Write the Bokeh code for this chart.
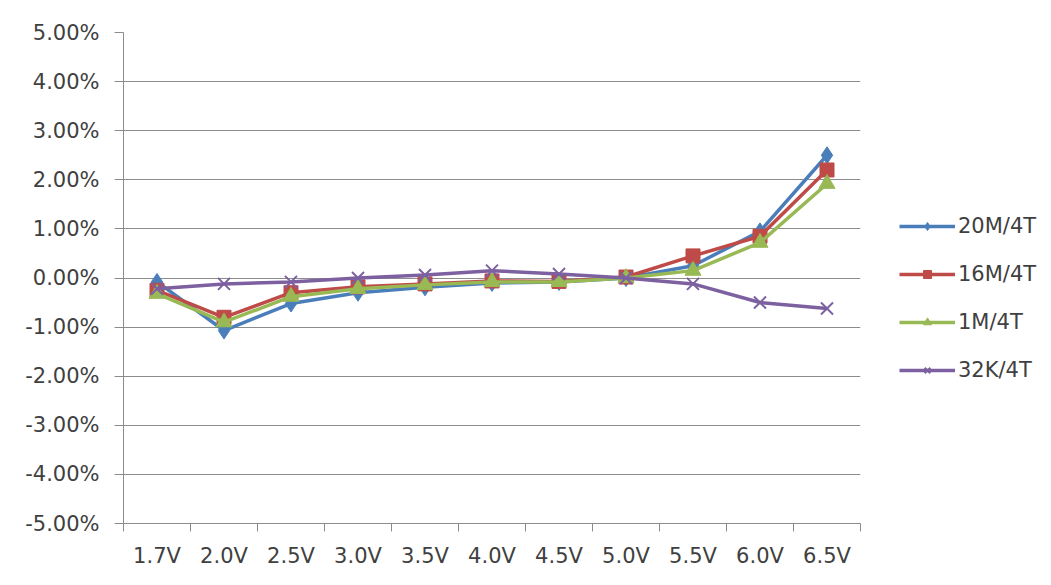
from bokeh.plotting import figure
from bokeh.models import FixedTicker, NumeralTickFormatter, Legend, LegendItem, Range1d
from bokeh.embed import file_html
from bokeh.resources import INLINE

categories = ["1.7V", "2.0V", "2.5V", "3.0V", "3.5V", "4.0V", "4.5V", "5.0V", "5.5V", "6.0V", "6.5V"]
s20m = [-0.08, -1.07, -0.52, -0.30, -0.19, -0.10, -0.08, 0.00, 0.25, 0.95, 2.50]
s16m = [-0.25, -0.80, -0.30, -0.18, -0.12, -0.06, -0.07, 0.02, 0.45, 0.85, 2.20]
s1m = [-0.32, -0.90, -0.38, -0.22, -0.14, -0.08, -0.08, 0.00, 0.15, 0.72, 1.92]
s32k = [-0.22, -0.12, -0.08, 0.00, 0.06, 0.15, 0.08, 0.00, -0.12, -0.50, -0.62]
names = ["20M/4T", "16M/4T", "1M/4T", "32K/4T"]
colors = ["#4A7EBB", "#BE4B48", "#98B954", "#7D60A0"]
markers = ["diamond", "square", "triangle", "x"]
ticks_pct = [-5, -4, -3, -2, -1, 0, 1, 2, 3, 4, 5]

FONT = "DejaVu Sans"
TXT = "#404040"
FS = "21px"

xs = [i + 0.5 for i in range(len(categories))]

p = figure(frame_width=737, frame_height=491, output_backend="svg", toolbar_location=None,
           x_range=Range1d(0, len(categories)), y_range=Range1d(-0.05, 0.05),
           min_border_left=123, min_border_top=32, min_border_right=180, min_border_bottom=54)
p.outline_line_color = None
p.xgrid.grid_line_color = None
p.ygrid.grid_line_color = "#8C8C8C"
p.ygrid.grid_line_width = 1

p.yaxis.ticker = FixedTicker(ticks=[t / 100 for t in ticks_pct])
p.yaxis.formatter = NumeralTickFormatter(format="0.00%")
p.yaxis.minor_tick_line_color = None
p.yaxis.major_tick_out = 9
p.yaxis.major_tick_in = 0
p.yaxis.major_label_standoff = 15
p.yaxis.axis_line_color = "#8C8C8C"
p.yaxis.major_tick_line_color = "#8C8C8C"

p.xaxis.ticker = FixedTicker(ticks=xs, minor_ticks=list(range(len(categories) + 1)))
p.xaxis.major_label_overrides = {x: c for x, c in zip(xs, categories)}
p.xaxis.major_tick_line_color = None
p.xaxis.major_tick_out = 0
p.xaxis.minor_tick_out = 8
p.xaxis.minor_tick_in = 0
p.xaxis.minor_tick_line_color = "#8C8C8C"
p.xaxis.axis_line_color = "#8C8C8C"
p.xaxis.major_label_standoff = 12

for ax in (p.xaxis, p.yaxis):
    ax.major_label_text_font = FONT
    ax.major_label_text_font_size = FS
    ax.major_label_text_color = TXT

items = []
for name, vals, col, mk in zip(names, [s20m, s16m, s1m, s32k], colors, markers):
    ys = [v / 100 for v in vals]
    r1 = p.line(xs, ys, line_color=col, line_width=3.5)
    if mk == "x":
        r2 = p.scatter(xs, ys, marker="x", size=17, line_color=col, line_width=2)
    else:
        sz = {"diamond": 17, "square": 14, "triangle": 16}[mk]
        r2 = p.scatter(xs, ys, marker=mk, size=sz, fill_color=col, line_color=col)
    items.append(LegendItem(label=name, renderers=[r1, r2]))

legend = Legend(items=items, location=(39, 141), padding=0, margin=0, spacing=24,
                glyph_width=56, glyph_height=20, label_standoff=3,
                label_text_font=FONT, label_text_font_size=FS, label_text_color=TXT,
                border_line_color=None, background_fill_alpha=0)
p.add_layout(legend, "right")

open("out.html", "w").write(file_html(p, INLINE))
